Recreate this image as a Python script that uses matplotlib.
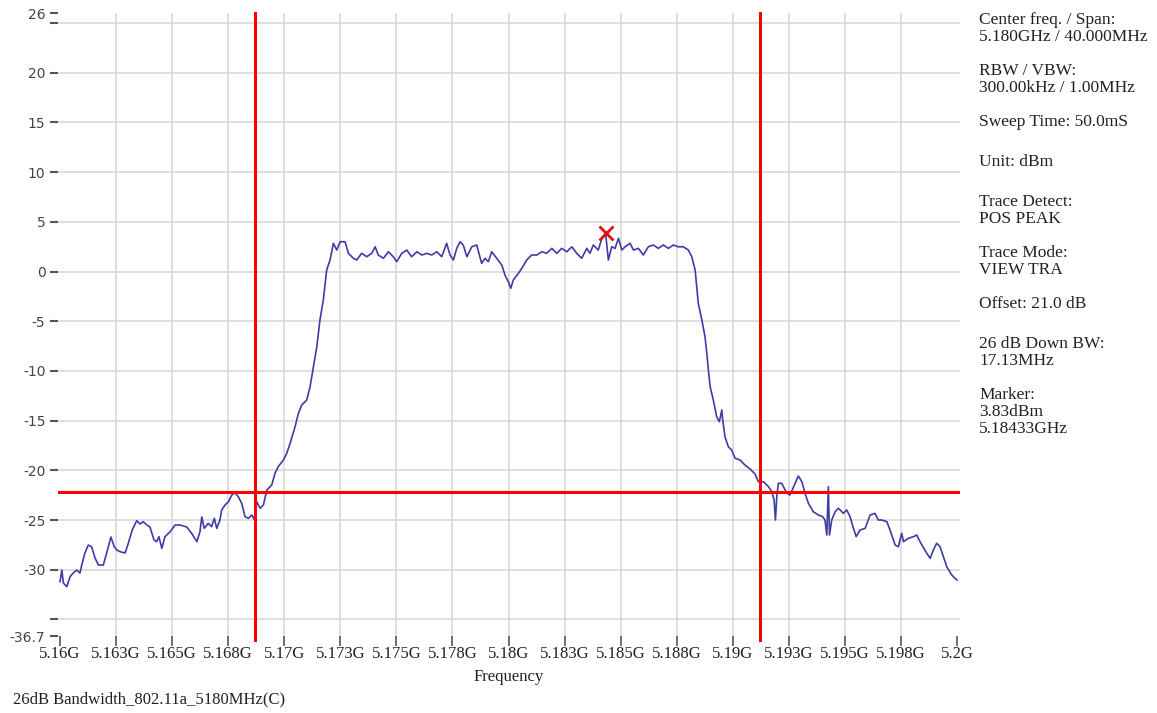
"""
26 dB bandwidth plot, 802.11a at 5180 MHz — spectrum analyser screenshot style.
"""
import matplotlib.pyplot as plt
import numpy as np

# trace (MHz, dBm)
freq_mhz = [
    5160.00, 5160.08, 5160.15, 5160.30, 5160.45, 5160.59, 5160.74, 5160.89, 5160.97, 5161.11,
    5161.26, 5161.41, 5161.56, 5161.71, 5161.93, 5162.08, 5162.27, 5162.42, 5162.53, 5162.68,
    5162.90, 5163.05, 5163.22, 5163.42, 5163.57, 5163.71, 5163.87, 5164.01, 5164.19, 5164.31,
    5164.41, 5164.54, 5164.68, 5164.91, 5165.13, 5165.35, 5165.65, 5165.87, 5166.10, 5166.24,
    5166.32, 5166.43, 5166.61, 5166.76, 5166.88, 5166.99, 5167.13, 5167.21, 5167.36, 5167.51,
    5167.66, 5167.80, 5167.95, 5168.10, 5168.25, 5168.40, 5168.55, 5168.66, 5168.77, 5168.92,
    5169.07, 5169.22, 5169.44, 5169.59, 5169.73, 5169.96, 5170.11, 5170.26, 5170.48, 5170.63,
    5170.78, 5171.00, 5171.15, 5171.30, 5171.45, 5171.59, 5171.74, 5171.89, 5172.04, 5172.19,
    5172.34, 5172.49, 5172.71, 5172.86, 5173.08, 5173.23, 5173.45, 5173.68, 5173.90, 5174.05,
    5174.19, 5174.42, 5174.64, 5174.86, 5175.01, 5175.24, 5175.46, 5175.68, 5175.91, 5176.13,
    5176.35, 5176.58, 5176.80, 5177.02, 5177.24, 5177.39, 5177.54, 5177.69, 5177.84, 5177.98,
    5178.14, 5178.36, 5178.58, 5178.80, 5178.95, 5179.10, 5179.25, 5179.47, 5179.70, 5179.84,
    5179.99, 5180.10, 5180.21, 5180.44, 5180.59, 5180.81, 5181.03, 5181.26, 5181.48, 5181.70,
    5181.93, 5182.15, 5182.37, 5182.60, 5182.82, 5183.04, 5183.26, 5183.49, 5183.63, 5183.78,
    5184.00, 5184.16, 5184.33, 5184.45, 5184.60, 5184.75, 5184.90, 5185.05, 5185.20, 5185.42,
    5185.57, 5185.79, 5186.01, 5186.23, 5186.46, 5186.68, 5186.90, 5187.13, 5187.35, 5187.57,
    5187.79, 5188.02, 5188.17, 5188.32, 5188.39, 5188.46, 5188.62, 5188.76, 5188.84, 5188.91,
    5188.99, 5189.13, 5189.28, 5189.40, 5189.51, 5189.55, 5189.65, 5189.80, 5189.95, 5190.10,
    5190.32, 5190.54, 5190.77, 5190.99, 5191.14, 5191.37, 5191.59, 5191.74, 5191.84, 5191.90,
    5191.96, 5192.03, 5192.18, 5192.41, 5192.55, 5192.78, 5192.92, 5193.08, 5193.22, 5193.37,
    5193.59, 5193.82, 5194.01, 5194.11, 5194.19, 5194.26, 5194.31, 5194.41, 5194.56, 5194.71,
    5194.93, 5195.08, 5195.23, 5195.38, 5195.50, 5195.67, 5195.90, 5196.12, 5196.34, 5196.49,
    5196.64, 5196.87, 5197.01, 5197.24, 5197.38, 5197.53, 5197.61, 5197.83, 5198.05, 5198.20,
    5198.27, 5198.43, 5198.65, 5198.80, 5198.94, 5199.09, 5199.24, 5199.39, 5199.54, 5199.76,
    5199.91, 5200.00,
]
level_dbm = [
    -31.20, -30.03, -31.34, -31.71, -30.70, -30.33, -30.03, -30.33, -29.53, -28.32,
    -27.52, -27.69, -28.82, -29.53, -29.53, -28.32, -26.71, -27.69, -28.02, -28.19,
    -28.32, -27.31, -26.01, -25.07, -25.40, -25.17, -25.50, -25.70, -27.01, -27.18,
    -26.68, -27.85, -26.68, -26.18, -25.50, -25.50, -25.70, -26.34, -27.18, -26.18,
    -24.70, -25.84, -25.33, -25.67, -24.83, -25.84, -25.00, -23.99, -23.49, -23.16,
    -22.48, -22.25, -22.66, -23.32, -24.67, -24.83, -24.50, -24.93, -23.16, -23.82,
    -23.49, -21.98, -21.48, -20.27, -19.64, -18.96, -18.29, -17.28, -15.61, -14.27,
    -13.43, -12.93, -11.59, -9.58, -7.57, -4.88, -2.87, 0.15, 1.16, 2.84,
    2.16, 3.00, 3.00, 1.83, 1.33, 1.16, 1.83, 1.49, 1.83, 2.49,
    1.66, 1.33, 1.99, 1.49, 0.99, 1.83, 2.16, 1.49, 1.99, 1.66,
    1.83, 1.66, 1.99, 1.49, 2.84, 1.66, 1.16, 2.33, 3.00, 2.67,
    1.49, 2.49, 2.67, 0.82, 1.33, 0.99, 1.99, 1.33, 0.65, -0.35,
    -1.03, -1.69, -0.86, -0.18, 0.32, 1.16, 1.66, 1.66, 1.99, 1.83,
    2.33, 1.83, 2.33, 1.99, 2.49, 1.83, 1.33, 2.33, 1.83, 2.67,
    2.16, 3.34, 3.83, 1.16, 2.49, 2.33, 3.34, 2.16, 2.49, 2.84,
    2.16, 2.33, 1.66, 2.49, 2.67, 2.33, 2.67, 2.33, 2.67, 2.49,
    2.49, 2.16, 1.49, 0.15, -1.53, -3.20, -4.88, -6.56, -8.23, -9.91,
    -11.59, -12.93, -14.61, -15.11, -13.93, -14.94, -16.62, -17.63, -17.96, -18.79,
    -18.96, -19.47, -19.87, -20.37, -21.15, -21.15, -21.65, -22.15, -22.99, -25.00,
    -22.66, -21.31, -21.31, -22.31, -22.48, -21.31, -20.57, -21.15, -22.31, -23.32,
    -24.17, -24.50, -24.67, -25.00, -26.51, -21.65, -26.51, -25.00, -24.17, -23.82,
    -24.33, -23.99, -24.67, -25.84, -26.68, -26.01, -25.84, -24.50, -24.33, -25.00,
    -25.00, -25.17, -26.01, -27.52, -27.69, -26.34, -27.18, -26.84, -26.68, -26.51,
    -26.84, -27.52, -28.35, -28.85, -28.02, -27.34, -27.69, -28.69, -29.70, -30.53,
    -30.87, -31.04,
]

marker_mhz, marker_dbm = 5184.33, 3.83
threshold_dbm = -22.17                 # marker level - 26 dB
edge_mhz = [5168.70, 5191.19]          # display lines

x_ticks = np.arange(5160, 5200.1, 2.5)
x_labels = ["5.16G", "5.163G", "5.165G", "5.168G", "5.17G", "5.173G", "5.175G",
            "5.178G", "5.18G", "5.183G", "5.185G", "5.188G", "5.19G", "5.193G",
            "5.195G", "5.198G", "5.2G"]
y_ticks = [26, 25, 20, 15, 10, 5, 0, -5, -10, -15, -20, -25, -30, -35, -36.7]
y_labels = ["26", "", "20", "15", "10", "5", "0", "-5", "-10", "-15", "-20",
            "-25", "-30", "", "-36.7"]

info = [
    ["Center freq. / Span:", "5.180GHz / 40.000MHz"],
    ["RBW / VBW:", "300.00kHz / 1.00MHz"],
    ["Sweep Time: 50.0mS"],
    ["Unit: dBm"],
    ["Trace Detect:", "POS PEAK"],
    ["Trace Mode:", "VIEW TRA"],
    ["Offset: 21.0 dB"],
    ["26 dB Down BW:", "17.13MHz"],
    ["Marker:", "3.83dBm", "5.18433GHz"],
]

SERIF = "Liberation Serif"
W, H = 1157, 713

fig = plt.figure(figsize=(W / 100, H / 100), dpi=100)
ax = fig.add_axes([58 / W, 1 - 636.3 / H, 902 / W, (636.3 - 13.1) / H])

# grid drawn by hand so the outer edges stay bare
for gx in x_ticks[1:-1]:
    ax.axvline(gx, color="#d6d6d6", lw=1.1, zorder=1)
for gy in range(25, -36, -5):
    ax.axhline(gy, color="#d6d6d6", lw=1.1, zorder=1)

ax.plot(freq_mhz, level_dbm, color="#3f3ca6", lw=1.2, zorder=3)

ax.axhline(threshold_dbm, color="#ff0000", lw=2.2, zorder=4)
for ex in edge_mhz:
    ax.axvline(ex, ymin=-0.006, color="#ff0000", lw=2.2, zorder=4, clip_on=False)
ax.plot(marker_mhz, marker_dbm, marker="x", color="#e01010", ms=10, mew=2, zorder=5)

ax.set_xlim(5159.91, 5200.13)
ax.set_ylim(-36.7, 26)
for s in ax.spines.values():
    s.set_visible(False)

ax.set_xticks(x_ticks)
ax.set_xticklabels(x_labels, family=SERIF, fontsize=12, color="#222222")
ax.set_yticks(y_ticks)
ax.set_yticklabels(y_labels, family="DejaVu Sans", fontsize=10, color="#444444")
ax.tick_params(axis="x", direction="out", length=7, width=1.2, color="#555555", pad=0)
ax.tick_params(axis="y", direction="out", length=6, width=1.5, color="#555555", pad=3)

ax.set_xlabel("Frequency", family=SERIF, fontsize=12, color="#222222", labelpad=5)

fig.text(13 / W, 1 - 699 / H, "26dB Bandwidth_802.11a_5180MHz(C)",
         family=SERIF, fontsize=12, color="#222222", va="center")

# settings panel on the right
y = 20
for group in info:
    for line in group:
        fig.text(979 / W, 1 - y / H, line, family=SERIF, fontsize=12.5,
                 color="#222222", va="center")
        y += 17
    y += 17 if len(group) > 1 else 23

fig.savefig("out.png", dpi=100, facecolor="white")
